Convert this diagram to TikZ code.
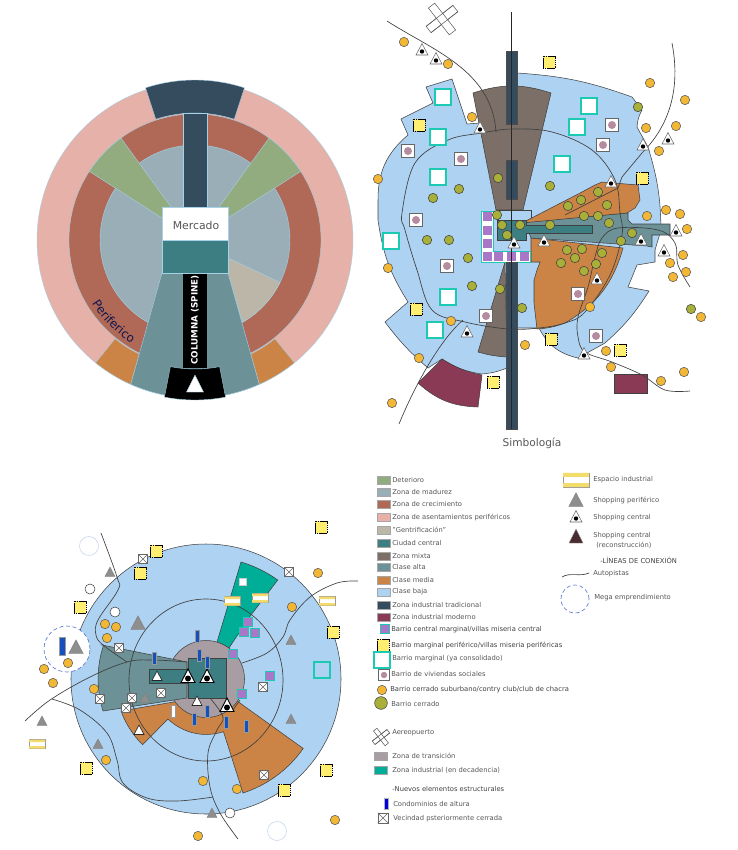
\documentclass[tikz,border=0pt]{standalone}
\usepackage{fontspec}
\setmainfont{DejaVu Sans}
\usetikzlibrary{decorations.text}
\definecolor{pinkz}{HTML}{E5B1A8}
\definecolor{brownz}{HTML}{B06857}
\definecolor{madurez}{HTML}{9AAEB8}
\definecolor{deterioro}{HTML}{92AC80}
\definecolor{darkblue}{HTML}{354C5F}
\definecolor{central}{HTML}{3D7E83}
\definecolor{alta}{HTML}{6C9197}
\definecolor{media}{HTML}{CB8445}
\definecolor{baja}{HTML}{AED2F2}
\definecolor{gentri}{HTML}{BBB6A8}
\definecolor{mixta}{HTML}{7B6F67}
\definecolor{moderno}{HTML}{8B3A55}
\definecolor{edgeblue}{HTML}{A6D1E6}
\definecolor{clubfill}{HTML}{F2B734}
\definecolor{olivefill}{HTML}{A9B03A}
\definecolor{yellowfill}{HTML}{FFEE70}
\definecolor{purplefill}{HTML}{A877C8}
\definecolor{tealedge}{HTML}{1CCAB4}
\definecolor{mauve}{HTML}{B58BA0}
\definecolor{transicion}{HTML}{A89DA2}
\definecolor{decadencia}{HTML}{00AD96}
\definecolor{condoblue}{HTML}{1450BE}
\definecolor{grayt}{HTML}{8E8E8E}
\definecolor{darkt}{HTML}{4A2C30}
\definecolor{megablue}{HTML}{5A78D0}
\definecolor{barfill}{HTML}{F4DC6C}
\definecolor{txt}{HTML}{555555}
\tikzset{
  zone/.style={draw=edgeblue,line width=.3pt},
  area/.style={draw=black!75,line width=.4pt},
  road/.style={draw=black!75,line width=.5pt},
  ley/.style={anchor=west,inner sep=0pt,text=txt,font=\fontsize{5.1}{6}\selectfont},
  leyb/.style={ley,text=black!75},
  swatch/.style={draw=black!35,line width=.4pt},
  clubc/.pic={\filldraw[fill=clubfill,draw=black!65,line width=.4pt] (0,0) circle (4.7);},
  olivec/.pic={\filldraw[fill=olivefill,draw=black!75,line width=.4pt] (0,0) circle (4.7);},
  whitec/.pic={\filldraw[fill=white,draw=black!75,line width=.4pt] (0,0) circle (5);},
  whitesq/.pic={\filldraw[fill=white,draw=black!20,line width=.2pt] (-3.5,-3.5) rectangle (3.5,3.5);},
  yellowsq/.pic={\filldraw[fill=yellowfill,draw=black,dash pattern=on 1.2pt off .4pt,line width=.6pt] (-6,-6) rectangle (6,6);},
  socialsq/.pic={\filldraw[fill=white,draw=black!60,line width=.5pt] (-6.5,-6.5) rectangle (6.5,6.5);
    \fill[mauve] (0,0) circle (4);},
  marginalsq/.pic={\filldraw[fill=white,draw=tealedge,line width=1.2pt] (-8,-8) rectangle (8,8);},
  marginalbl/.pic={\draw[draw=tealedge,line width=1.2pt] (-8,-8) rectangle (8,8);},
  purplesq/.pic={\filldraw[fill=purplefill,draw=tealedge,line width=.6pt] (-4.5,-4.5) rectangle (4.5,4.5);},
  shopdot/.pic={\filldraw[fill=white,draw=black!60,line width=.4pt] (-6,-5) -- (6,-5) -- (0,6.5) -- cycle;
    \fill[black] (0,-1.5) circle (2.2);},
  shopbig/.pic={\filldraw[fill=white,draw=black,line width=.7pt] (-7,-5.5) -- (7,-5.5) -- (0,8) -- cycle;
    \fill[black] (0,-1.5) circle (3);},
  shopwhite/.pic={\filldraw[fill=white,draw=black!85,line width=.5pt] (-5,-4.5) -- (5,-4.5) -- (0,5) -- cycle;},
  shopgray/.pic={\filldraw[fill=grayt,draw=black!50,line width=.3pt] (-5,-4.5) -- (5,-4.5) -- (0,5) -- cycle;},
  condo/.pic={\filldraw[fill=condoblue,draw=black!40,line width=.2pt] (-2,-6) rectangle (2,6);},
  vecina/.pic={\filldraw[fill=white,draw=black!60,line width=.4pt] (-4.5,-4.5) rectangle (4.5,4.5);
    \draw[black!60,line width=.35pt] (-4.5,-4.5) -- (4.5,4.5) (-4.5,4.5) -- (4.5,-4.5);},
  indbar/.pic={\filldraw[fill=white,draw=black!40,line width=.3pt] (-8,-4.5) rectangle (8,4.5);
    \fill[barfill] (-8,2) rectangle (8,4.5) (-8,-4.5) rectangle (8,-2);},
  aeropuerto/.pic={\begin{scope}[rotate=38]
    \filldraw[fill=white,draw=black!65,line width=.4pt] (-17,-4) rectangle (17,4);
    \filldraw[fill=white,draw=black!65,line width=.4pt] (-4,-17) rectangle (4,17);
    \draw[black!65,line width=.4pt] (-17,-4) -- (17,-4) (-17,4) -- (17,4);
    \end{scope}},
}
\begin{document}
\begin{tikzpicture}[x=0.0265cm,y=0.0265cm]
\useasboundingbox (0,-850) rectangle (738,0);

% modelo
\begin{scope}[shift={(195,-240)}]
\filldraw[zone,fill=pinkz] (0,0) circle (158);
\filldraw[zone,fill=brownz] (0,0) circle (126);
\filldraw[zone,fill=madurez] (0,0) circle (95);
\filldraw[zone,fill=deterioro] (-33,22) -- (147:126) arc (147:126:126) -- (-24,33) -- cycle;
\filldraw[zone,fill=deterioro] (33,22) -- (33:126) arc (33:54:126) -- (24,33) -- cycle;
\filldraw[zone,fill=gentri] (33,-18) -- (333.5:95) arc (333.5:300:95) -- (33,-33) -- cycle;
\filldraw[zone,fill=media] (231:158) arc (231:246:158) -- (244:127) arc (244:231:127) -- cycle;
\filldraw[zone,fill=media] (309:158) arc (309:294:158) -- (296:127) arc (296:309:127) -- cycle;
\filldraw[zone,fill=alta] (-33,-33) -- (246:158) arc (246:294:158) -- (33,-33) -- cycle;
\filldraw[zone,fill=black] (259:160) arc (259:281:160) -- (281:129) arc (281:259:129) -- cycle;
\fill[black] (-12,-33) rectangle (12,-128);
\filldraw[zone,fill=white] (-8.5,-152) -- (8.5,-152) -- (0,-135) -- cycle;
\filldraw[zone,fill=darkblue] (72:127) arc (72:108:127) -- (108:160) arc (108:72:160) -- cycle;
\filldraw[zone,fill=darkblue] (-12,33) rectangle (12,127);
\filldraw[zone,fill=white] (-33,0) rectangle (33,33);
\filldraw[zone,fill=central] (-33,0) rectangle (33,-33);
\node[text=txt,font=\fontsize{8.2}{10}\selectfont] (mercado) at (1,15) {Mercado};
\node[rotate=90,text=white,font=\fontsize{6.6}{8}\selectfont\bfseries] (columna) at (0,-80) {COLUMNA (SPINE)};
\path[postaction={decorate},decoration={text along path,text align=center,
  text={|\fontsize{9}{10}\selectfont\color{darkblue!60!blue!50!black}|Periferico}}] (208:121) arc (208:242:121);
\end{scope}

% ciudad latinoamericana
\filldraw[area,fill=baja] (517,-73) to[bend left=8] (632,-97) -- (642,-110) to[bend right=12] (637,-127)
  -- (648,-147) to[bend left=8] (661,-230) -- (655,-250) -- (655,-262) -- (637,-265) -- (628,-287) -- (649,-291)
  to[bend left=8] (605,-343) -- (578,-358) to[bend left=25] (539,-328) -- (510,-328) -- (507,-368)
  to[bend left=8] (482,-374) to[bend left=12] (442,-359) -- (428,-368) to[bend left=6] (385,-322) -- (408,-302)
  to[bend left=12] (378,-220) -- (378,-200) to[bend left=25] (408,-135) -- (401,-119) -- (433,-103) -- (426,-87)
  -- (452,-79) -- (467,-124) -- (480,-123) -- (510,-100) -- (517,-100) -- cycle;
\filldraw[area,fill=mixta] (473,-93) to[bend left=18] (551,-93) -- (523,-210) -- (496,-210) -- cycle;
\filldraw[area,fill=mixta] (505,-262) -- (478,-352) to[bend right=6] (507,-357) -- cycle;
\filldraw[area,fill=moderno] (418,-383) -- (442,-359) to[bend right=10] (482,-375) -- (478,-407) to[bend left=20] (418,-383) -- cycle;
\filldraw[area,fill=moderno] (614,-374) rectangle (647,-393);
\filldraw[area,fill=media] (531,-238) -- (623,-248) to[bend left=22] (565,-323) to[bend left=8] (537,-329) -- (534,-303)
  -- (534,-280) -- (537,-270) -- (540,-262) -- (531,-262) -- cycle;
\filldraw[area,fill=baja] (498,-210) rectangle (531,-220);
\filldraw[area,fill=alta] (525,-222) -- (628,-213) -- (628,-220) -- (632,-224) -- (670,-224) -- (670,-235) -- (652,-235)
  -- (652,-247) -- (647,-246) -- (531,-238) -- cycle;
\filldraw[area,fill=media] (522,-223) -- (582,-192) -- (595,-185) -- (602,-182) -- (638,-185) -- (640,-200) -- (635,-208)
  -- (627,-213) -- cycle;
\filldraw[area,fill=central] (497,-220) -- (526,-220) -- (526,-225) -- (592,-225) -- (592,-233) -- (526,-233) -- (526,-240)
  -- (497,-240) -- cycle;
% villas centro
\filldraw[draw=tealedge,fill=white,line width=.5pt] (481,-211) -- (493,-211) -- (493,-251) -- (530,-251) -- (530,-262) -- (481,-262) -- cycle;
\foreach \x/\y in {487/216,487/230,487/243,487/256,498/256,511/256,524/256}
{
    \fill[purplefill] (\x-4.5,-\y-4.5) rectangle (\x+4.5,-\y+4.5);
}
% columna
\foreach \a/\b in {51/124,160/199,262/429}
{
    \filldraw[draw=black!70,fill=darkblue,line width=.3pt] (506,-\a) rectangle (517,-\b);
}
\draw[black!85,line width=.5pt] (511.5,-12) -- (511.5,-429);
% autopistas
\draw[road] (387,-21) .. controls (432,-50) and (492,-70) .. (496,-132);
\draw[road] plot[smooth cycle,tension=.6] coordinates {(415,-163) (448,-140) (482,-133) (512,-129) (552,-132) (592,-150) (615,-180) (620,-213)
  (622,-235) (610,-275) (585,-312) (565,-323) (539,-328) (508,-329) (465,-322) (432,-310) (417,-270) (405,-230) (402,-213)};
\draw[road] (672,-43) .. controls (682,-95) and (665,-130) .. (642,-153) -- (622,-177) -- (618,-188) -- (565,-215);
\draw[road] plot[smooth,tension=.6] coordinates {(690,-287) (678,-265) (675,-243) (658,-230) (618,-228) (602,-238) (595,-257) (588,-287) (578,-317)
  (578,-337) (585,-352) (612,-362) (642,-375) (665,-390) (690,-391)};
\draw[road] (463,-320) .. controls (440,-340) and (415,-385) .. (399,-424);

\pic at (442,-19) {aeropuerto};
\foreach \x/\y in {443/97,438/137,438/177,589/106,577/127,562/164,391/241,448/297,435/330}
{
    \pic at (\x,-\y) {marginalsq};
}
\foreach \x/\y in {408/151,461/159,416/220,612/125,603/145,447/266,486/316,578/294,596/336}
{
    \pic at (\x,-\y) {socialsq};
}
\foreach \x/\y in {549/62,419/125,642/178,416/309,551/339,620/350,493/382}
{
    \pic at (\x,-\y) {yellowsq};
}
\foreach \x/\y in {422/50,436/59,480/128,611/182,643/145,668/139,676/231,544/241,514/243,597/279,467/332,584/354,641/240,664/251}
{
    \pic at (\x,-\y) {shopdot};
}
\foreach \x/\y in {404/42,448/64,472/117,378/179,650/83,685/100,646/128,676/126,659/151,666/210,680/214,647/216,687/229,388/268,451/321,
  419/358,392/403,525/345,590/307,606/351,611/367,661/381,684/372,701/317,670/263,683/255,686/272,673/277}
{
    \pic at (\x,-\y) {clubc};
}
\foreach \x/\y in {638/107,498/178,550/186,459/189,433/198,497/215,502/225,520/225,550/225,584/216,598/216,609/223,607/205,581/200,568/206,598/192,
  507/235,632/233,621/241,427/240,449/240,468/258,472/286,500/289,522/308,567/250,582/249,575/258,561/263,602/253,596/264,584/271,691/309}
{
    \pic at (\x,-\y) {olivec};
}
\node[text=txt,font=\fontsize{8}{10}\selectfont] (simbologia) at (532,-443) {Simbología};

% ciudad actual
\filldraw[area,fill=baja] (206,-679) circle (135);
\foreach \x/\y in {89/546,277/831}
{
    \draw[draw=megablue!30,line width=.5pt] (\x,-\y) circle (9.5);
}
\filldraw[area,fill=media] (121,-711) arc (200:225.4:91) -- (168,-719) arc (226:288.3:55) -- (243,-793) arc (288:325:118) -- (226,-693) -- cycle;
\filldraw[area,fill=decadencia] (241,-562) arc (73.5:54.2:122) -- (251,-615) -- (229,-648) -- (217,-642) -- cycle;
\filldraw[area,fill=transicion] (206,-679) circle (38.5);
\filldraw[area,fill=alta] (102,-645) -- (187,-662) -- (187,-698) -- (103,-711) arc (197.3:161.7:108) -- cycle;
\filldraw[area,fill=central] (188,-658) rectangle (226,-698);
\filldraw[area,fill=central] (149,-669) rectangle (188,-683);
\draw[road] (206,-680) ellipse (77 and 81);
\draw[road] plot[smooth,tension=.6] coordinates {(101,-533) (117,-577) (118,-590) (98,-620) (96,-635) (103,-645) (127,-662)};
\draw[road] plot[smooth,tension=.6] coordinates {(25,-721) (50,-700) (90,-677) (127,-662) (153,-660) (187,-662)};
\draw[road] plot[smooth,tension=.6] coordinates {(358,-581) (337,-583) (310,-597) (290,-620) (283,-637) (267,-653) (242,-663)};
\draw[road] plot[smooth,tension=.6] coordinates {(52,-699) (80,-710) (107,-733) (117,-760) (123,-783) (147,-798) (177,-801) (213,-797)};
\draw[road] plot[smooth,tension=.6] coordinates {(210,-698) (223,-717) (217,-730) (208,-753) (210,-787) (220,-813) (238,-839)};
\draw[road] (233,-710) -- (240,-700);
\filldraw[draw=megablue,densely dashed,fill=white,line width=.5pt] (67,-649) circle (23);

\pic at (243,-582) {whitesq};
\foreach \x/\y in {232/601,260/598,327/601,37/744}
{
    \pic at (\x,-\y) {indbar};
}
\foreach \x/\y in {248/622,244/632,255/633,233/654,270/676,242/694}
{
    \pic at (\x,-\y) {purplesq};
}
\pic at (322,-670) {marginalbl};
\foreach \x/\y in {156/551,140/573,80/607,333/632,86/768,326/770,284/790,321/527}
{
    \pic at (\x,-\y) {yellowsq};
}
\foreach \x/\y in {105/624,116/627,107/638,94/689,68/663,44/669,53/683,106/760,203/781,237/789,198/836,335/820,292/607,318/573}
{
    \pic at (\x,-\y) {clubc};
}
\foreach \x/\y in {90/589,115/612,230/813}
{
    \pic at (\x,-\y) {whitec};
}
\foreach \x/\y in {110/572,291/640,291/719,98/744,42/721,145/698,212/813}
{
    \pic at (\x,-\y) {shopgray};
}
\foreach \x/\y in {138/623,76/647}
{
    \pic[scale=1.45] at (\x,-\y) {shopgray};
}
\foreach \x/\y in {157/676,197/701,139/730}
{
    \pic at (\x,-\y) {shopwhite};
}
\foreach \x/\y in {188/677,207/677,227/706}
{
    \pic at (\x,-\y) {shopbig};
}
\foreach \x/\y in {143/559,119/648,289/572,100/699,126/708,132/698,161/693,263/687,264/775}
{
    \pic at (\x,-\y) {vecina};
}
\foreach \x/\y in {197/636,154/658,199/655,207/662,207/711,194/719,226/722,246/726}
{
    \pic at (\x,-\y) {condo};
}
\filldraw[fill=white,draw=black!40,line width=.2pt] (171,-705) rectangle (175,-717);
\pic[scale=1.5] at (62,-646) {condo};

% simbologia
\foreach \y/\c/\t in {480/deterioro/Deterioro,492/madurez/Zona de madurez,504/brownz/Zona de crecimiento,517/pinkz/Zona de asentamientos periféricos,
  530/gentri/"Gentrificación",543/central/Ciudad central,556/mixta/Zona mixta,567/alta/Clase alta,580/media/Clase media,592/baja/Clase baja,
  605/darkblue/Zona industrial tradicional,617/moderno/Zona industrial moderno}
{
    \filldraw[swatch,fill=\c] (377,-\y-4) rectangle (390,-\y+4);
    \node[ley] (ley\y) at (392,-\y) {\t};
}
\pic at (385,-629) {purplesq};
\node[leyb] (leycentral) at (391,-630) {Barrio central marginal/villas miseria central};
\pic at (383,-645) {yellowsq};
\node[leyb] (leyperif) at (391,-645) {Barrio marginal periférico/villas miseria periféricas};
\pic at (382,-660) {marginalsq};
\node[ley] (leyconsol) at (392,-659) {Barrio marginal (ya consolidado)};
\pic[scale=.8] at (384,-675) {socialsq};
\node[ley] (leysocial) at (391,-674) {Barrio de viviendas sociales};
\pic at (382,-690) {clubc};
\node[leyb] (leyclub) at (390,-690) {Barrio cerrado suburbano/contry club/club de chacra};
\pic[scale=1.35] at (381,-703) {olivec};
\node[ley] (leycerrado) at (391,-704) {Barrio cerrado};
\pic[scale=.55] at (381,-737) {aeropuerto};
\node[ley] (leyaero) at (392,-733) {Aereopuerto};
\filldraw[swatch,fill=transicion] (374,-752) rectangle (387,-760);
\node[ley] (leytrans) at (392,-756) {Zona de transición};
\filldraw[swatch,fill=decadencia] (374,-766) rectangle (387,-774);
\node[ley] (leydecad) at (392,-770) {Zona industrial (en decadencia)};
\node[leyb] (leynuevos) at (392,-789) {-Nuevos elementos estructurales};
\filldraw[fill=blue!90!black,draw=black!30,line width=.2pt] (384,-798) rectangle (388,-809);
\node[ley] (leycondo) at (393,-804) {Condominios de altura};
\pic[scale=1.15] at (383,-818) {vecina};
\node[ley] (leyvecina) at (393,-819) {Vecindad psteriormente cerrada};

\pic[scale=1.6] at (576,-480) {indbar};
\node[ley] (leyind) at (593,-480) {Espacio industrial};
\pic[scale=1.45] at (576,-500) {shopgray};
\node[ley] (leyperi) at (593,-500) {Shopping periférico};
\pic at (576,-517) {shopdot};
\node[ley] (leycent) at (593,-518) {Shopping central};
\filldraw[fill=darkt,draw=black!40,line width=.3pt] (569,-543) -- (583,-543) -- (576,-529) -- cycle;
\node[ley] (leyrecon) at (593,-536) {Shopping central};
\node[ley] (leyrecon2) at (596,-545) {(reconstrucción)};
\node[leyb] (leylineas) at (600,-560) {-LÍNEAS DE CONEXIÓN};
\draw[road] (562,-577) .. controls (570,-572) and (580,-577) .. (589,-573);
\node[ley] (leyauto) at (593,-574) {Autopistas};
\draw[draw=megablue,densely dashed,line width=.5pt] (575,-599) circle (14);
\node[ley] (leymega) at (594,-598) {Mega emprendimiento};
\end{tikzpicture}
\end{document}
